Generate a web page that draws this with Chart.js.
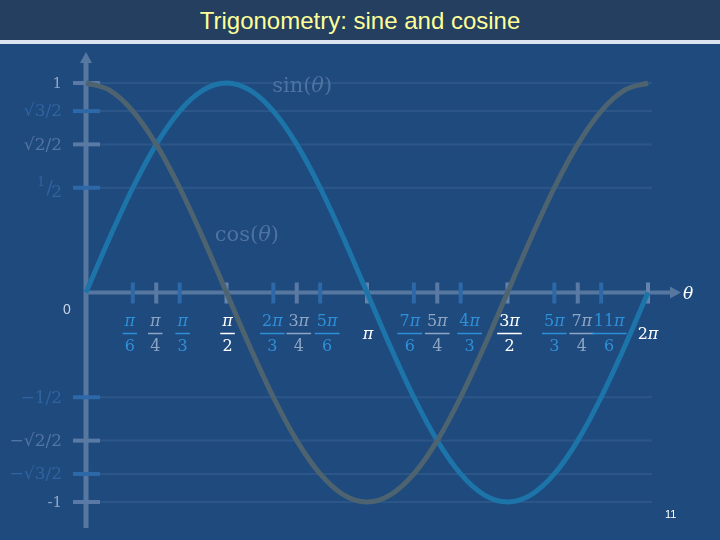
<!DOCTYPE html>
<html>
<head>
<meta charset="utf-8">
<script src="https://cdn.jsdelivr.net/npm/chart.js@4.4.0/dist/chart.umd.min.js"></script>
<style>
html, body { margin: 0; padding: 0; }
body { width: 720px; height: 540px; background: #1f4a7d; position: relative; overflow: hidden; font-family: "Liberation Sans", Arial, sans-serif; }
#header { position: absolute; left: 0; top: 0; width: 720px; height: 40px; background: #243f60; }
#rule { position: absolute; left: 0; top: 40px; width: 720px; height: 4px; background: #dbe4ef; }
#title { position: absolute; left: 0; top: 9px; width: 720px; text-align: center; color: #ffff99; font-size: 24px; line-height: 24px; }
#page { position: absolute; left: 665px; top: 509px; color: #fff; font-size: 11px; line-height: 11px; }
#chart { position: absolute; left: 0; top: 0; }
</style>
</head>
<body>
<div id="header"></div>
<div id="rule"></div>
<div id="title">Trigonometry: sine and cosine</div>
<canvas id="chart" width="720" height="540"></canvas>
<div id="page">11</div>
<script>
// angle in twelfths of pi (0 .. 2pi)
const thetaTwelfths = [0, 1, 2, 3, 4, 5, 6, 7, 8, 9, 10, 11, 12, 13, 14, 15, 16, 17, 18, 19, 20, 21, 22, 23, 24];
const sineValues = [0, 0.259, 0.5, 0.707, 0.866, 0.966, 1, 0.966, 0.866, 0.707, 0.5, 0.259, 0,
    -0.259, -0.5, -0.707, -0.866, -0.966, -1, -0.966, -0.866, -0.707, -0.5, -0.259, 0];
const cosineValues = [1, 0.966, 0.866, 0.707, 0.5, 0.259, 0, -0.259, -0.5, -0.707, -0.866, -0.966, -1,
    -0.966, -0.866, -0.707, -0.5, -0.259, 0, 0.259, 0.5, 0.707, 0.866, 0.966, 1];

const xTickTwelfths = [2, 3, 4, 6, 8, 9, 10, 12, 14, 15, 16, 18, 20, 21, 22, 24];
const xTickNumerators = ['π', 'π', 'π', 'π', '2π', '3π', '5π', 'π', '7π', '5π', '4π', '3π', '5π', '7π', '11π', '2π'];
const xTickDenominators = ['6', '4', '3', '2', '3', '4', '6', '', '6', '4', '3', '2', '3', '4', '6', ''];
const xTickKinds = ['blue', 'gray', 'blue', 'white', 'blue', 'gray', 'blue', 'white', 'blue', 'gray', 'blue', 'white', 'blue', 'gray', 'blue', 'white'];

const yTickValues = [1, 0.866, 0.707, 0.5, -0.5, -0.707, -0.866, -1];
const yTickLabels = ['1', '√3/2', '√2/2', '1/2', '−1/2', '−√2/2', '−√3/2', '-1'];
const yTickKinds = ['gray', 'blue', 'gray', 'blue', 'blue', 'gray', 'blue', 'gray'];

// styling
const sineColor = '#1c74a9';
const cosineColor = '#4d6370';
const axisColor = '#56779f';
const gridColor = 'rgba(140, 170, 215, 0.13)';
const tickColors = { blue: '#2d68a8', gray: '#5a7aa5', white: '#6483ad' };
const xLabelColors = { blue: '#2e90d8', gray: '#8ea5c4', white: '#ffffff' };
const yLabelColors = { blue: '#2f64a0', gray: '#5475a2' };
const curveLabelColor = '#4f72a0';
// label nudges (px) so the crowded fractions sit as on the slide
const xLabelShift = [-3, -1, 3, 1, -1, 2, 7, 1, -4, 0, 9, 2, 0, 4, 8, 0];

const serif = '"DejaVu Serif", "Liberation Serif", serif';

function mathRuns(str) {
    const runs = [];
    for (const ch of str) {
        const it = ch === 'π' || ch === 'θ';
        const last = runs[runs.length - 1];
        if (last && last.it === it) last.t += ch; else runs.push({ t: ch, it: it });
    }
    return runs;
}

function drawMath(ctx, str, x, y, size, align) {
    const runs = mathRuns(str);
    let w = 0;
    runs.forEach(r => {
        ctx.font = (r.it ? 'italic ' : '') + size + 'px ' + serif;
        r.w = ctx.measureText(r.t).width;
        w += r.w;
    });
    let cx = align === 'right' ? x - w : align === 'center' ? x - w / 2 : x;
    ctx.textAlign = 'left';
    ctx.textBaseline = 'middle';
    runs.forEach(r => {
        ctx.font = (r.it ? 'italic ' : '') + size + 'px ' + serif;
        ctx.fillText(r.t, cx, y);
        cx += r.w;
    });
    return w;
}

function seg(ctx, ax, ay, bx, by) {
    ctx.beginPath();
    ctx.moveTo(ax, ay);
    ctx.lineTo(bx, by);
    ctx.stroke();
}

const axesPlugin = {
    id: 'axesPlugin',
    beforeDatasetsDraw(chart) {
        const { ctx, scales: { x, y } } = chart;
        const xLeft = x.getPixelForValue(0);
        const xRight = x.getPixelForValue(24);
        const yTop = y.getPixelForValue(1);
        const yBottom = y.getPixelForValue(-1);
        const yZero = y.getPixelForValue(0);
        ctx.save();

        // faint horizontal grid lines
        ctx.strokeStyle = gridColor;
        ctx.lineWidth = 2;
        yTickValues.forEach(v => {
            const py = y.getPixelForValue(v);
            seg(ctx, xLeft + 14, py, xRight + 4, py);
        });

        // axes
        ctx.strokeStyle = axisColor;
        ctx.fillStyle = axisColor;
        ctx.lineWidth = 5;
        seg(ctx, xLeft, yBottom + 26, xLeft, yTop - 20);
        ctx.beginPath();
        ctx.moveTo(xLeft - 6, yTop - 20);
        ctx.lineTo(xLeft + 6, yTop - 20);
        ctx.lineTo(xLeft, yTop - 31);
        ctx.fill();
        ctx.lineWidth = 4;
        seg(ctx, xLeft, yZero, xRight + 22, yZero);
        ctx.beginPath();
        ctx.moveTo(xRight + 22, yZero - 6);
        ctx.lineTo(xRight + 22, yZero + 6);
        ctx.lineTo(xRight + 33, yZero);
        ctx.fill();

        // y ticks and labels
        ctx.lineWidth = 4;
        yTickValues.forEach((v, i) => {
            const py = y.getPixelForValue(v);
            ctx.strokeStyle = tickColors[yTickKinds[i]];
            seg(ctx, xLeft - 13, py, xLeft + 14, py);
            const lx = xLeft - 24;
            const label = yTickLabels[i];
            if (label === '1' || label === '-1') {
                ctx.fillStyle = '#8fa6c6';
                drawMath(ctx, label, lx, py + 1, 15, 'right');
            } else if (label === '1/2') {
                ctx.fillStyle = yLabelColors[yTickKinds[i]];
                ctx.textAlign = 'right';
                ctx.textBaseline = 'middle';
                ctx.font = '17px ' + serif;
                ctx.fillText('2', lx, py + 5);
                ctx.font = '19px ' + serif;
                ctx.fillText('/', lx - 9, py + 1);
                ctx.font = '12px ' + serif;
                ctx.fillText('1', lx - 17, py - 5);
            } else {
                ctx.fillStyle = yLabelColors[yTickKinds[i]];
                drawMath(ctx, label, lx, py + 1, 17, 'right');
            }
        });
        ctx.fillStyle = '#c9d4e4';
        ctx.font = '14px "Liberation Sans", Arial, sans-serif';
        ctx.textAlign = 'center';
        ctx.textBaseline = 'middle';
        ctx.fillText('0', xLeft - 19, yZero + 18);

        // x ticks and fraction labels
        xTickTwelfths.forEach((v, i) => {
            const px = x.getPixelForValue(v);
            const kind = xTickKinds[i];
            ctx.strokeStyle = tickColors[kind];
            ctx.lineWidth = 4;
            seg(ctx, px, yZero - 10, px, yZero + 11);
            ctx.fillStyle = xLabelColors[kind];
            const lx = px + xLabelShift[i];
            if (xTickDenominators[i]) {
                const w = drawMath(ctx, xTickNumerators[i], lx, yZero + 29, 16, 'center');
                drawMath(ctx, xTickDenominators[i], lx, yZero + 54, 16, 'center');
                ctx.strokeStyle = xLabelColors[kind];
                ctx.lineWidth = 1.5;
                seg(ctx, lx - w / 2 - 2, yZero + 41, lx + w / 2 + 2, yZero + 41);
            } else {
                drawMath(ctx, xTickNumerators[i], lx, yZero + 42, 16, 'center');
            }
        });

        ctx.fillStyle = '#ffffff';
        drawMath(ctx, 'θ', xRight + 40, yZero + 2, 17, 'center');

        // curve names
        ctx.fillStyle = curveLabelColor;
        drawMath(ctx, 'sin(θ)', x.getPixelForValue(7.95), y.getPixelForValue(0.985), 21, 'left');
        drawMath(ctx, 'cos(θ)', x.getPixelForValue(5.5), y.getPixelForValue(0.27), 21, 'left');
        ctx.restore();
    }
};

const pts = values => thetaTwelfths.map((t, i) => ({ x: t, y: values[i] }));

new Chart(document.getElementById('chart'), {
    type: 'line',
    data: {
        datasets: [{
            label: 'cos',
            data: pts(cosineValues),
            borderColor: cosineColor,
            borderWidth: 5,
            pointRadius: 0,
            cubicInterpolationMode: 'monotone',
            fill: false,
            clip: false
        }, {
            label: 'sin',
            data: pts(sineValues),
            borderColor: sineColor,
            borderWidth: 5,
            pointRadius: 0,
            cubicInterpolationMode: 'monotone',
            fill: false,
            clip: false
        }]
    },
    options: {
        responsive: false,
        animation: false,
        layout: { padding: { left: 86, right: 72, top: 83, bottom: 38 } },
        plugins: { legend: { display: false }, tooltip: { enabled: false } },
        scales: {
            x: { type: 'linear', min: 0, max: 24, display: false },
            y: { min: -1, max: 1, display: false }
        }
    },
    plugins: [axesPlugin]
});
</script>
</body>
</html>
